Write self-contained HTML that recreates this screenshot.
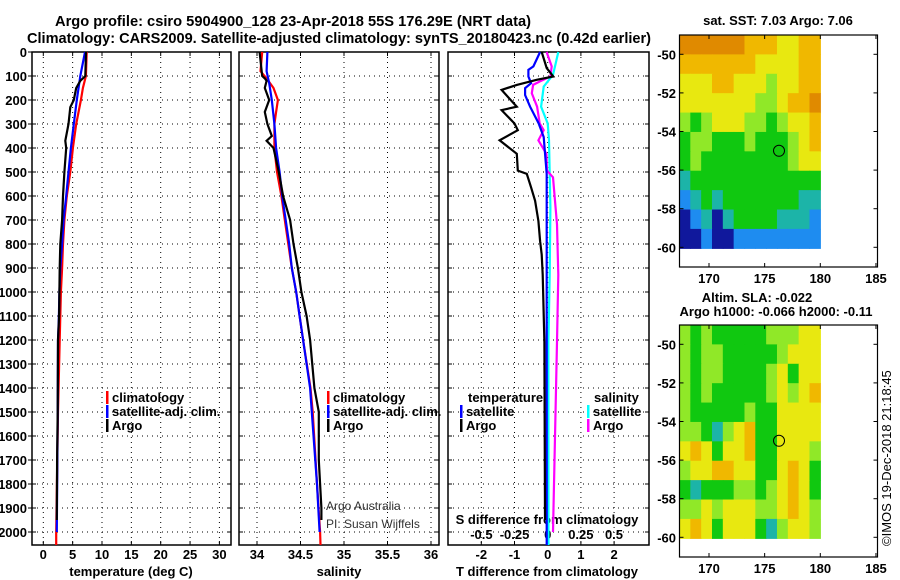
<!DOCTYPE html>
<html><head><meta charset="utf-8"><style>
html,body{margin:0;padding:0;background:#fff}
svg{display:block}
text{font-family:"Liberation Sans",sans-serif;font-weight:bold;fill:#000}
</style></head><body>
<svg id="c" width="900" height="580" viewBox="0 0 900 580" xmlns="http://www.w3.org/2000/svg">
<text x="293" y="26" font-size="15" text-anchor="middle" textLength="476" lengthAdjust="spacingAndGlyphs">Argo profile: csiro 5904900_128 23-Apr-2018 55S 176.29E (NRT data)</text>
<text x="339" y="43" font-size="15" text-anchor="middle" textLength="624" lengthAdjust="spacingAndGlyphs">Climatology: CARS2009. Satellite-adjusted climatology: synTS_20180423.nc (0.42d earlier)</text>
<g id="g"></g>
</svg>
<script>
// ---- data ----
const depthTicks=[0,100,200,300,400,500,600,700,800,900,1000,1100,1200,1300,1400,1500,1600,1700,1800,1900,2000];
const tTicks=[0,5,10,15,20,25,30];
const sTicks=[34,34.5,35,35.5,36];
const dTTicks=[-2,-1,0,1,2];
const dSTicks=[-0.5,-0.25,0,0.25,0.5];
const dSTickLabels=["-0.5","-0.25","0","0.25","0.5"];
const latTicks=[-50,-52,-54,-56,-58,-60];
const lonTicks=[170,175,180,185];

const tArgoDepth=[0,100,120,150,200,230,300,370,400,500,600,700,800,900,1000,1100,1200,1500,1700,1950];
const tArgo=[7.27,7.15,6.3,5.6,5.2,4.6,4.3,3.75,3.9,3.6,3.35,3.2,2.9,2.8,2.75,2.7,2.5,2.45,2.35,2.3];
const tClimDepth=[0,100,150,200,300,400,500,600,700,800,900,1000,1100,1200,1500,2000,2054];
const tClim=[7.4,7.25,6.75,6.4,5.6,5.05,4.6,4.0,3.6,3.35,3.2,3.0,2.9,2.8,2.5,2.2,2.2];
const tSatDepth=[0,100,200,300,400,500,600,700,800,900,1000,1100,1200,1500,2000];
const tSat=[7.1,6.3,5.7,5.2,4.7,4.3,3.9,3.45,3.2,2.9,2.75,2.65,2.5,2.45,2.3];

const sArgoDepth=[0,100,110,120,150,200,250,300,350,370,400,500,600,700,800,900,1000,1100,1200,1400,1500,1700,1900,1950];
const sArgo=[34.03,34.06,34.09,34.11,34.09,34.14,34.09,34.12,34.17,34.11,34.19,34.25,34.30,34.38,34.42,34.47,34.51,34.57,34.61,34.66,34.71,34.71,34.74,34.74];
const sClimDepth=[0,80,110,150,200,250,300,400,500,600,700,800,900,1000,1100,1200,1400,1500,1800,2000,2054];
const sClim=[34.06,34.04,34.11,34.19,34.24,34.22,34.2,34.2,34.23,34.28,34.32,34.36,34.4,34.45,34.49,34.53,34.615,34.64,34.69,34.725,34.73];
const sSatDepth=[0,80,130,200,300,400,500,600,700,800,900,1000,1100,1200,1400,1500,1800,2000];
const sSat=[34.12,34.11,34.14,34.17,34.2,34.22,34.26,34.29,34.33,34.37,34.4,34.45,34.49,34.53,34.61,34.63,34.69,34.72];

const dTArgoDepth=[0,67,102,116,137,158,228,242,298,326,368,424,494,508,564,620,704,788,844,928,1209,1950];
const dTArgo=[-0.18,-0.03,0.17,-0.33,-0.93,-1.39,-0.93,-1.39,-1.0,-0.9,-1.45,-0.93,-0.9,-0.63,-0.5,-0.38,-0.28,-0.23,-0.18,-0.15,-0.1,-0.08];
const dTSatDepth=[0,60,74,102,130,151,179,228,298,354,508,1000,2054];
const dTSat=[-0.23,-0.43,-0.58,-0.58,-0.5,-0.68,-0.68,-0.53,-0.27,-0.12,-0.03,-0.03,-0.03];
const dSArgoDepth=[0,60,102,123,137,172,228,298,326,368,424,494,522,620,718,928,1209,2000];
const dSArgo=[-0.008,0.03,0.02,-0.06,-0.11,-0.12,-0.08,-0.06,-0.03,-0.07,-0.01,-0.005,0.04,0.055,0.07,0.08,0.07,0.04];
const dSSatDepth=[0,60,95,144,228,298,368,648,928,1209,2054];
const dSSat=[0.08,0.055,0.04,-0.03,-0.05,0.0,0.01,0.02,0.015,0.005,0.006];

// map grids (colour class per ~1deg cell), rows from -49 to -60, cols from 167.4 to 180
const sstGrid=[
[7,7,7,7,7,7,6,6,6,5,5,6,6],
[6,6,6,6,6,6,6,5,5,5,5,6,6],
[5,5,5,6,6,5,5,5,4,5,5,6,6],
[5,5,5,5,5,5,5,4,4,5,6,6,7],
[4,3,4,5,5,5,4,4,3,4,5,5,6],
[3,4,4,3,3,3,4,3,3,3,4,5,6],
[3,4,3,3,3,3,3,3,3,3,4,5,5],
[2,3,3,3,3,3,3,3,3,3,3,3,3],
[1,2,3,2,3,3,3,3,3,3,3,2,2],
[0,1,2,0,2,3,3,3,3,2,2,2,1],
[0,0,1,0,0,1,1,1,1,1,1,1,1]];
const slaGrid=[
[4,3,4,3,3,3,3,3,4,4,4,5,5],
[4,3,4,4,3,3,3,3,3,4,5,5,5],
[4,3,4,4,3,3,3,3,4,5,3,5,5],
[4,3,4,3,3,3,3,3,4,5,4,5,6],
[4,3,3,3,3,3,4,3,3,5,5,5,5],
[4,4,3,2,4,5,6,3,3,5,5,5,5],
[5,6,5,3,5,5,6,3,3,5,5,5,4],
[4,5,5,6,6,5,5,3,3,5,6,5,3],
[3,2,3,3,3,4,4,3,4,5,6,5,3],
[4,4,5,4,5,5,5,4,4,5,6,5,4],
[5,6,5,3,5,5,5,3,2,4,5,5,4]];
const sstTitle="sat. SST: 7.03 Argo: 7.06";
const floatLon=176.29, floatLat=-55.0;

// ---- drawing ----
const NS="http://www.w3.org/2000/svg";
const G=document.getElementById('g');
function el(tag,attrs,parent){const e=document.createElementNS(NS,tag);for(const k in attrs)e.setAttribute(k,attrs[k]);(parent||G).appendChild(e);return e;}
function txt(x,y,s,size,anchor,extra){const e=el('text',Object.assign({x:x,y:y,'font-size':size,'text-anchor':anchor||'start'},extra||{}));e.textContent=s;return e;}
const yD=d=>52+d*0.24;
const TOP=52,BOT=545;
const panels=[
 {name:'temperature',L:32,R:231,x:v=>43.3+v*5.87},
 {name:'salinity',L:239,R:439,x:v=>257+(v-34)*87},
 {name:'difference',L:448,R:649,x:v=>547.7+v*33.2}];
const xS=v=>547.7+v*132.6;

panels.forEach((p,i)=>{
 const g=el('g',{});
 
 
 depthTicks.forEach(d=>{const l=el('line',{x1:p.L,x2:p.R,y1:yD(d),y2:yD(d),stroke:'#000','stroke-width':1,'stroke-dasharray':'1,4'},g);
  
  el('line',{x1:p.L,x2:p.L+4,y1:yD(d),y2:yD(d),stroke:'#000'},g);el('line',{x1:p.R-4,x2:p.R,y1:yD(d),y2:yD(d),stroke:'#000'},g);});
 const tk=i==0?tTicks:i==1?sTicks:dTTicks;
 tk.forEach(v=>{const X=p.x(v);const l=el('line',{x1:X,x2:X,y1:TOP,y2:BOT,stroke:'#000','stroke-dasharray':'1,4'},g);
  
  el('line',{x1:X,x2:X,y1:BOT-4,y2:BOT,stroke:'#000'},g);el('line',{x1:X,x2:X,y1:TOP,y2:TOP+4,stroke:'#000'},g);
  const t=txt(X,559,String(v),13,'middle');});
 const r=el('rect',{x:p.L,y:TOP,width:p.R-p.L,height:BOT-TOP,fill:'none',stroke:'#000','stroke-width':1.5},g);
 
});
depthTicks.forEach(d=>{const t=txt(27,yD(d)+5,String(d),13,'end');
 el('line',{x1:28,x2:32,y1:yD(d),y2:yD(d),stroke:'#000'});});
dSTicks.forEach((v,i)=>{const t=txt(xS(v),539,dSTickLabels[i],13,'middle');});
let t;
t=txt(131,576,'temperature (deg C)',13,'middle');
t=txt(339,576,'salinity',13,'middle');
t=txt(547,576,'T difference from climatology',13,'middle');
t=txt(547,524,'S difference from climatology',13,'middle');
t=txt(326,510,'Argo Australia',12,'start',{style:'font-weight:normal;fill:#333'});
t=txt(326,528,'PI: Susan Wijffels',12,'start',{style:'font-weight:normal;fill:#333'});

function series(xs,ds,xf,color,name){
 const pts=xs.map((v,i)=>xf(v).toFixed(1)+','+yD(ds[i]).toFixed(1)).join(' ');
 const l=el('polyline',{points:pts,fill:'none',stroke:color,'stroke-width':2.2,'stroke-linejoin':'miter'});
 
 
}
series(tClim,tClimDepth,panels[0].x,'#f00','temperature-climatology-line');
series(tSat,tSatDepth,panels[0].x,'#00f','temperature-satellite-line');
series(tArgo,tArgoDepth,panels[0].x,'#000','temperature-argo-line');
series(sClim,sClimDepth,panels[1].x,'#f00','salinity-climatology-line');
series(sSat,sSatDepth,panels[1].x,'#00f','salinity-satellite-line');
series(sArgo,sArgoDepth,panels[1].x,'#000','salinity-argo-line');
series(dSSat,dSSatDepth,xS,'#0ff','s-diff-satellite-line');
series(dSArgo,dSArgoDepth,xS,'#f0f','s-diff-argo-line');
series(dTSat,dTSatDepth,panels[2].x,'#00f','t-diff-satellite-line');
series(dTArgo,dTArgoDepth,panels[2].x,'#000','t-diff-argo-line');

function legend(x,y,color,label,name){
 const b=el('rect',{x:x,y:y-11,width:2.5,height:13,fill:color});
 
 const t=txt(x+6,y,label,13,'start');
}
legend(106,402,'#f00','climatology','legend-t-climatology');
legend(106,416,'#00f','satellite-adj. clim.','legend-t-satellite');
legend(106,430,'#000','Argo','legend-t-argo');
legend(327,402,'#f00','climatology','legend-s-climatology');
legend(327,416,'#00f','satellite-adj. clim.','legend-s-satellite');
legend(327,430,'#000','Argo','legend-s-argo');
t=txt(468,402,'temperature',13);
legend(460,416,'#00f','satellite','legend-dt-satellite');
legend(460,430,'#000','Argo','legend-dt-argo');
t=txt(594,402,'salinity',13);
legend(587,416,'#0ff','satellite','legend-ds-satellite');
legend(587,430,'#f0f','Argo','legend-ds-argo');

// maps
const cmap=['#10189c','#1e8cf0','#1cb4a8','#10c810','#90e828','#e8e810','#f0b800','#e08a00'];
const lonX=lo=>709+(lo-170)*11.13;
function map(top,bot,lat50,lat60,grid,name){
 const g=el('g',{});
 
 
 const latY=la=>lat50+(-50-la)*(lat60-lat50)/10;
 const x0=679.5,x1=lonX(180),y0=top,y1=latY(-60)+1;
 const rows=grid.length,cols=grid[0].length;
 grid.forEach((row,r)=>row.forEach((v,c)=>{
  el('rect',{x:x0+c*(x1-x0)/cols,y:y0+r*(y1-y0)/rows,width:(x1-x0)/cols+0.6,height:(y1-y0)/rows+0.6,fill:cmap[v]},g);}));
 const ring=el('circle',{cx:lonX(floatLon),cy:latY(floatLat),r:5.5,fill:'none',stroke:'#000','stroke-width':1},g);
 
 el('rect',{x:679.5,y:top,width:877.5-679.5,height:bot-top,fill:'none',stroke:'#000','stroke-width':1.2},g);
 latTicks.forEach(la=>{const Y=latY(la);el('line',{x1:873.5,x2:877.5,y1:Y,y2:Y,stroke:'#000'},g);el('line',{x1:679.5,x2:683.5,y1:Y,y2:Y,stroke:'#000'},g);
  const tt=txt(676,Y+5,String(la),13,'end');});
 lonTicks.forEach(lo=>{const X=lonX(lo);el('line',{x1:X,x2:X,y1:bot-4,y2:bot,stroke:'#000'},g);el('line',{x1:X,x2:X,y1:top,y2:top+4,stroke:'#000'},g);
  const tt=txt(X,bot+16,String(lo),13,'middle');});
}
map(35,267,54.3,247.3,sstGrid,'sst-map');
map(325,557,344.3,537.3,slaGrid,'sla-map');
t=txt(778,25,sstTitle,13,'middle');
t=txt(757,302,'Altim. SLA: -0.022',13,'middle');
t=txt(776,316,'Argo h1000: -0.066 h2000: -0.11',13,'middle');
t=txt(0,0,'\u00A9IMOS 19-Dec-2018 21:18:45',13,'start',{style:'font-weight:normal',transform:'translate(891,546) rotate(-90)'});

</script>
</body></html>
